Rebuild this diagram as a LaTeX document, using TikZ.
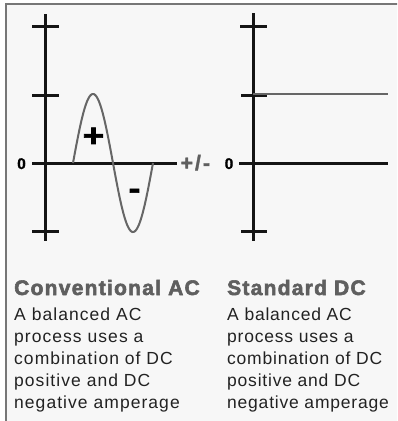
\documentclass[tikz,border=0pt]{standalone}
\usepackage{fontspec}
\setmainfont{Liberation Sans}
\newfontfamily\headfont[LetterSpace=6, FakeBold=2.6]{Liberation Sans Bold}
\newfontfamily\signfont[LetterSpace=10, FakeBold=1.8]{Liberation Sans Bold}
\newfontfamily\zerofont[FakeBold=1]{Liberation Sans Bold}
\newfontfamily\bodyfontL[LetterSpace=6]{Liberation Sans}
\newfontfamily\bodyfontR[LetterSpace=4.5]{Liberation Sans}
\definecolor{panelbg}{HTML}{F7F7F7}
\definecolor{framegray}{HTML}{777777}
\definecolor{headgray}{HTML}{5F5F5F}
\definecolor{curvegray}{HTML}{666666}
\definecolor{bodytext}{HTML}{222222}
\definecolor{axisblack}{HTML}{151515}
\tikzset{
  axisline/.style={draw=axisblack, line width=3pt},
  curveline/.style={draw=curvegray, line width=2pt},
  headtext/.style={inner sep=0pt, anchor=base west, text=headgray, font=\headfont\fontsize{21}{24}\selectfont},
  bodyL/.style={inner sep=0pt, anchor=base west, text=bodytext, font=\bodyfontL\fontsize{17.5}{22}\selectfont},
  bodyR/.style={inner sep=0pt, anchor=base west, text=bodytext, font=\bodyfontR\fontsize{17.5}{22}\selectfont},
  zerolabel/.style={inner sep=0pt, anchor=base, text=black, font=\zerofont\fontsize{15.5}{17}\selectfont},
  signlabel/.style={inner sep=0pt, anchor=base, text=black, font=\signfont\fontsize{32}{34}\selectfont},
}
\begin{document}
\begin{tikzpicture}[x=1pt, y=-1pt]
\useasboundingbox (0,0) rectangle (397,421);
\clip (0,0) rectangle (397,421);
\fill[white] (0,0) rectangle (397,421);
\draw[fill=panelbg, draw=framegray, line width=1.3pt] (6,4) rectangle (405,430);

% ---------- left chart: conventional AC ----------
\coordinate (la-top) at (45,14);
\coordinate (la-bot) at (45,241);
\draw[axisline] (la-top) -- (la-bot);
\foreach \yy/\nm in {26/a,95/b,231/c}{
  \coordinate (lt-\nm-w) at (32,\yy);
  \coordinate (lt-\nm-e) at (59,\yy);
  \draw[axisline] (lt-\nm-w) -- (lt-\nm-e);
}
\coordinate (lz-w) at (32,163);
\coordinate (lz-e) at (177,163);
\draw[axisline] (lz-w) -- (lz-e);
\draw[curveline] plot[domain=0:80, samples=120, smooth] ({73+\x}, {163-69*sin(4.5*\x)});
\node[zerolabel] (lzero) at (21.5,169) {0};
\node[signlabel] (plus) at (93.5,146.5) {\scalebox{1.15}[1]{+}};
\node[signlabel] (minus) at (134.5,199) {\scalebox{1.1}[1]{-}};
\node[inner sep=0pt, anchor=base west, text=headgray, font=\signfont\fontsize{21}{23}\selectfont] (pm) at (180.5,170) {+/-};

% ---------- right chart: standard DC ----------
\coordinate (ra-top) at (253,13);
\coordinate (ra-bot) at (253,241);
\draw[axisline] (ra-top) -- (ra-bot);
\coordinate (rt-a-w) at (240,26);  \coordinate (rt-a-e) at (267,26);
\coordinate (rt-b-w) at (241,95);  \coordinate (rt-b-e) at (267,95);
\coordinate (rt-c-w) at (241,231); \coordinate (rt-c-e) at (267,231);
\draw[axisline] (rt-a-w) -- (rt-a-e);
\draw[axisline] (rt-b-w) -- (rt-b-e);
\draw[axisline] (rt-c-w) -- (rt-c-e);
\coordinate (rz-w) at (239,163);
\coordinate (rz-e) at (388,163);
\draw[axisline] (rz-w) -- (rz-e);
\coordinate (dc-w) at (253,94);
\coordinate (dc-e) at (388,94);
\draw[curveline] (dc-w) -- (dc-e);
\node[zerolabel] (rzero) at (229,169) {0};

% ---------- captions ----------
\node[headtext] (lhead) at (14,295) {Conventional AC};
\node[headtext] (rhead) at (227,295) {Standard DC};
\foreach \t [count=\i] in {A balanced AC, process uses a, combination of DC, positive and DC, negative amperage}{
  \node[bodyL] (lb\i) at (14,{320+22*(\i-1)}) {\t};
  \node[bodyR] (rb\i) at (227,{320+22*(\i-1)}) {\t};
}
\end{tikzpicture}
\end{document}
